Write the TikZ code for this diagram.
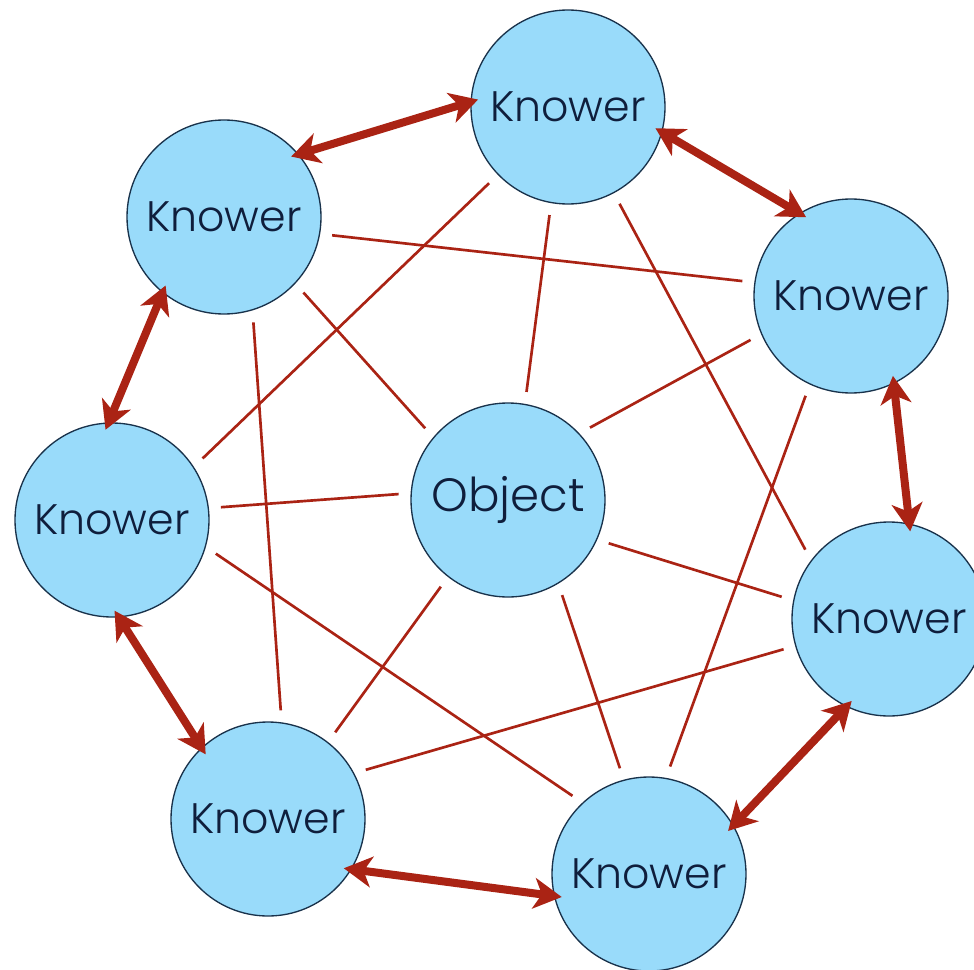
\documentclass[tikz,border=0pt]{standalone}
\usepackage{fontspec}
\setmainfont{Poppins}[UprightFont=* Light]
\usetikzlibrary{arrows.meta}
\definecolor{knowerfill}{RGB}{153,219,250}
\definecolor{knowerline}{RGB}{25,50,75}
\definecolor{linkred}{RGB}{170,35,20}
\definecolor{textnavy}{RGB}{15,30,60}
\tikzset{every picture/.style={line width=0.75pt},
  knower/.style={circle,draw=knowerline,line width=1pt,fill=knowerfill,minimum size=145.5pt,inner sep=0pt,text=textnavy,font=\fontsize{32}{38}\selectfont},
  link/.style={draw=linkred,line width=2pt,shorten >=9pt,shorten <=9pt},
  exchange/.style={draw=linkred,line width=6pt,{Stealth[length=21pt,width=23pt,inset=6pt]}-{Stealth[length=21pt,width=23pt,inset=6pt]},shorten >=-6pt,shorten <=-6pt}
}
\begin{document}
\begin{tikzpicture}[x=0.75pt,y=0.75pt,yscale=-1,xscale=1]
\useasboundingbox (0,0) rectangle (974,970);

%Shape: Circles
\node[knower] (ktop) at (568,107) {Knower};
\node[knower] (kul) at (224,217) {Knower};
\node[knower] (kur) at (851,296) {Knower};
\node[knower] (klf) at (112,520) {Knower};
\node[knower,font=\fontsize{35}{42}\selectfont] (obj) at (508,500) {Object};
\node[knower] (krt) at (889,619) {Knower};
\node[knower] (kbl) at (268,819) {Knower};
\node[knower] (kbr) at (649,874) {Knower};

%Straight Lines: knowers to object
\draw[link] (ktop.260) -- (obj.80);
\draw[link] (kul.-43) -- (obj.140);
\draw[link] (kur.203) -- (obj.43);
\draw[link] (klf.7) -- (obj.176);
\draw[link] (krt.169) -- (obj.-24);
\draw[link] (kbl.52) -- (obj.-128);
\draw[link] (kbr.105) -- (obj.-59);

%Straight Lines: knowers to knowers
\draw[link] (kul.-10) -- (kur.172);
\draw[link] (ktop.224) -- (klf.33);
\draw[link] (ktop.298) -- (krt.143);
\draw[link] (kul.-73) -- (kbl.82);
\draw[link] (kur.-115) -- (kbr.80);
\draw[link] (klf.-16) -- (kbr.133);
\draw[link] (krt.196) -- (kbl.28);

%Double Arrows round the ring
\draw[exchange] (ktop.177) -- (kul.40);
\draw[exchange] (ktop.-15) -- (kur.122);
\draw[exchange] (kur.-64) -- (krt.78);
\draw[exchange] (krt.244) -- (kbr.30);
\draw[exchange] (kbr.193) -- (kbl.-31);
\draw[exchange] (kbl.133) -- (klf.-86);
\draw[exchange] (klf.92) -- (kul.231);

\end{tikzpicture}
\end{document}
